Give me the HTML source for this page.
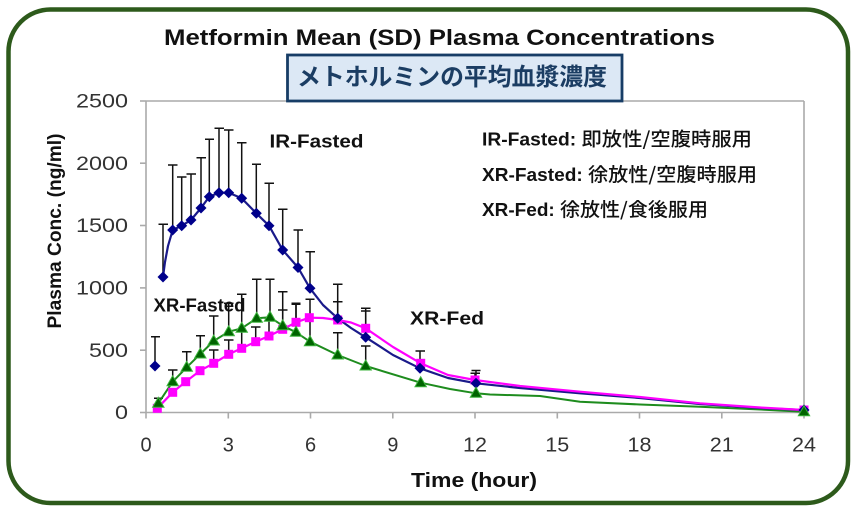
<!DOCTYPE html>
<html><head><meta charset="utf-8"><style>
html,body{margin:0;padding:0;background:#fff;}
svg{display:block;}
</style></head><body>
<svg width="857" height="514" viewBox="0 0 857 514" xmlns="http://www.w3.org/2000/svg">
<rect x="0" y="0" width="857" height="514" fill="#fff"/>
<rect x="8.5" y="9.5" width="839.5" height="493.5" rx="42" ry="42" fill="#fff" stroke="#2d5a1b" stroke-width="4.5"/>

<!-- title -->
<text x="164" y="45" font-family="Liberation Sans, Arial, sans-serif" font-weight="bold" font-size="22" fill="#111" textLength="551" lengthAdjust="spacingAndGlyphs">Metformin Mean (SD) Plasma Concentrations</text>

<!-- plot frame -->
<g stroke="#aaa" stroke-width="1.6" fill="none">
<line x1="146" y1="101" x2="804" y2="101"/>
<line x1="804" y1="101" x2="804" y2="412.5"/>
<line x1="146" y1="101" x2="146" y2="412.5"/>
<line x1="146" y1="412.5" x2="804" y2="412.5"/>
<line x1="140" y1="412.5" x2="146" y2="412.5"/>
<line x1="140" y1="350.2" x2="146" y2="350.2"/>
<line x1="140" y1="287.9" x2="146" y2="287.9"/>
<line x1="140" y1="225.5" x2="146" y2="225.5"/>
<line x1="140" y1="163.2" x2="146" y2="163.2"/>
<line x1="140" y1="101" x2="146" y2="101"/>
<line x1="146" y1="412.5" x2="146" y2="418.5"/>
<line x1="228.3" y1="412.5" x2="228.3" y2="418.5"/>
<line x1="310.5" y1="412.5" x2="310.5" y2="418.5"/>
<line x1="392.8" y1="412.5" x2="392.8" y2="418.5"/>
<line x1="475" y1="412.5" x2="475" y2="418.5"/>
<line x1="557.3" y1="412.5" x2="557.3" y2="418.5"/>
<line x1="639.5" y1="412.5" x2="639.5" y2="418.5"/>
<line x1="721.8" y1="412.5" x2="721.8" y2="418.5"/>
<line x1="804" y1="412.5" x2="804" y2="418.5"/>
</g>

<!-- y tick labels -->
<g font-family="Liberation Sans, Arial, sans-serif" font-size="19" fill="#333" text-anchor="end">
<text x="128" y="419" textLength="13" lengthAdjust="spacingAndGlyphs">0</text>
<text x="128" y="356.8" textLength="39" lengthAdjust="spacingAndGlyphs">500</text>
<text x="128" y="294.5" textLength="52" lengthAdjust="spacingAndGlyphs">1000</text>
<text x="128" y="232.1" textLength="52" lengthAdjust="spacingAndGlyphs">1500</text>
<text x="128" y="169.8" textLength="52" lengthAdjust="spacingAndGlyphs">2000</text>
<text x="128" y="107.5" textLength="52" lengthAdjust="spacingAndGlyphs">2500</text>
</g>
<!-- x tick labels -->
<g font-family="Liberation Sans, Arial, sans-serif" font-size="20" fill="#333" text-anchor="middle">
<text x="146" y="451.5">0</text>
<text x="228.3" y="451.5">3</text>
<text x="310.5" y="451.5">6</text>
<text x="392.8" y="451.5">9</text>
<text x="475" y="451.5" textLength="24" lengthAdjust="spacingAndGlyphs">12</text>
<text x="557.3" y="451.5" textLength="24" lengthAdjust="spacingAndGlyphs">15</text>
<text x="639.5" y="451.5" textLength="24" lengthAdjust="spacingAndGlyphs">18</text>
<text x="721.8" y="451.5" textLength="24" lengthAdjust="spacingAndGlyphs">21</text>
<text x="804" y="451.5" textLength="24" lengthAdjust="spacingAndGlyphs">24</text>
</g>

<!-- axis titles -->
<text x="411" y="487" font-family="Liberation Sans, Arial, sans-serif" font-weight="bold" font-size="20" fill="#111" textLength="126" lengthAdjust="spacingAndGlyphs">Time (hour)</text>
<text transform="translate(61,231) rotate(-90)" x="0" y="0" text-anchor="middle" font-family="Liberation Sans, Arial, sans-serif" font-weight="bold" font-size="19" fill="#111" textLength="195" lengthAdjust="spacingAndGlyphs">Plasma Conc. (ng/ml)</text>

<!-- Japanese box -->
<rect x="287.5" y="55" width="334.5" height="46" fill="#dce8f5" stroke="#173d66" stroke-width="2.8"/>
<text x="297" y="85" font-family="Liberation Sans, 'Noto Sans CJK JP', sans-serif" font-weight="bold" font-size="24" fill="#1b3d63" textLength="310" lengthAdjust="spacingAndGlyphs">メトホルミンの平均血漿濃度</text>

<!-- legend text -->
<g font-size="19" fill="#111">
<text x="482" y="145.5" textLength="270" lengthAdjust="spacingAndGlyphs"><tspan font-family="Liberation Sans, sans-serif" font-weight="bold" font-size="18">IR-Fasted: </tspan><tspan font-family="'Noto Sans CJK JP', sans-serif" font-weight="500">即放性/空腹時服用</tspan></text>
<text x="482" y="181" textLength="275" lengthAdjust="spacingAndGlyphs"><tspan font-family="Liberation Sans, sans-serif" font-weight="bold" font-size="18">XR-Fasted: </tspan><tspan font-family="'Noto Sans CJK JP', sans-serif" font-weight="500">徐放性/空腹時服用</tspan></text>
<text x="482" y="216" textLength="226" lengthAdjust="spacingAndGlyphs"><tspan font-family="Liberation Sans, sans-serif" font-weight="bold" font-size="18">XR-Fed: </tspan><tspan font-family="'Noto Sans CJK JP', sans-serif" font-weight="500">徐放性/食後服用</tspan></text>
</g>

<!-- error bars -->
<g stroke="#111" stroke-width="1.5" fill="none">
<!-- blue -->
<path d="M155 366V336.7M151 336.7H160
M163 277V224.3M158.5 224.3H168
M172.7 230V165M168 165H177.5
M181.7 225.7V177M177 177H186.5
M191 220V174M186.5 174H196
M201 208V157.7M196.5 157.7H206
M209.3 196.7V139.3M205 139.3H214
M219 192.7V128.3M214.5 128.3H224
M228.7 192.7V130M224 130H233.5
M241.7 198.3V142.7M237 142.7H246.5
M256.3 213.3V164.3M252 164.3H261
M269 225.7V183.3M264.5 183.3H274
M282.7 250V209.3M278 209.3H287.5
M298 267.5V230M293.5 230H303
M310 288.3V251.7M305.5 251.7H315
M337.7 318.3V284.3M333 284.3H342.5
M365.7 337.3V308.3M361 308.3H370.5
M420 368.3V351M415.5 351H425
M476 383.3V370.5M471.5 370.5H480.5"/>
<!-- green -->
<path d="M158.3 403.3V398.3M154 398.3H163
M172.7 381.7V370M168 370H177.5
M186.7 367.3V351.7M182 351.7H191.5
M200.3 354V335.7M196 335.7H205
M213.7 341V316M209 316H218.5
M228.7 331.7V303.3M224 303.3H233.5
M241.7 328.3V294.3M237 294.3H246.5
M256.7 318.3V279.3M252 279.3H261.5
M270 317.3V279.3M265.5 279.3H274.5
M282.7 325.7V291.7M278 291.7H287.5
M296 332.3V303.3M291.5 303.3H300.5
M310 341.7V299.3M305.5 299.3H314.5
M337.7 355V332.7M333 332.7H342.5
M365.7 366V346M361 346H370.5"/>
<!-- pink -->
<path d="M213.7 363.3V350M209 350H218.5
M228.7 354.3V340M224 340H233.5
M241.7 348.3V331.7M237 331.7H246.5
M255.7 341.7V327M251 327H260.5
M269 336V318M264.5 318H273.5
M282.7 329.3V310M278 310H287.5
M296 322.3V304.3M291.5 304.3H300.5
M337.7 320V301.7M333 301.7H342.5
M365.7 328.3V311M361 311H370.5
M475 380V373.3M470.5 373.3H480"/>
</g>

<!-- series lines -->
<g fill="none" stroke-linejoin="round" stroke-linecap="round">
<polyline stroke="#1e8c1e" stroke-width="2" points="158.3,403.3 172.7,381.7 186.7,367.3 200.3,354 213.7,341 228.7,331.7 241.7,328.3 256.7,318.3 270,317.3 282.7,325.7 296,332.3 310,341.7 337.7,355 365.7,366 420.7,382.7 450,389 476,393.3 490,394.5 540,396 580,401.7 640,404.5 700,406.7 760,409.5 804,411.7"/>
<polyline stroke="#1a1a8a" stroke-width="2.2" points="163,277 165,262 168,246 172.7,230 181.7,225.7 191,220 201,208 209.3,196.7 219,192.7 228.7,192.7 241.7,198.3 256.3,213.3 269,225.7 282.7,250 298,267.5 310,288.3 323,305 337.7,318.3 351,328 365.7,337.3 393,355 420,368.3 448,378 476,383.3 520,388 580,393.3 640,398 700,404 760,408 804,410"/>
<polyline stroke="#ff00ff" stroke-width="2.2" points="157.3,408.3 172.7,392.3 185.7,381.7 200,370.7 213.7,363.3 228.7,354.3 241.7,348.3 255.7,341.7 269,336 282.7,329.3 296,322.3 309.3,317.7 323,318 337.7,320 351,322.5 365.7,328.3 393,347 420.7,363.3 448,375 475,380 520,386 580,391.7 640,397 700,403.3 760,407.5 804,410"/>
</g>

<!-- markers -->
<g fill="#ff00ff">
<rect x="152.8" y="403.8" width="9" height="9"/>
<rect x="168.2" y="387.8" width="9" height="9"/>
<rect x="181.2" y="377.2" width="9" height="9"/>
<rect x="195.5" y="366.2" width="9" height="9"/>
<rect x="209.2" y="358.8" width="9" height="9"/>
<rect x="224.2" y="349.8" width="9" height="9"/>
<rect x="237.2" y="343.8" width="9" height="9"/>
<rect x="251.2" y="337.2" width="9" height="9"/>
<rect x="264.5" y="331.5" width="9" height="9"/>
<rect x="278.2" y="324.8" width="9" height="9"/>
<rect x="291.5" y="317.8" width="9" height="9"/>
<rect x="304.8" y="313.2" width="9" height="9"/>
<rect x="333.2" y="315.5" width="9" height="9"/>
<rect x="361.2" y="323.8" width="9" height="9"/>
<rect x="416.2" y="358.8" width="9" height="9"/>
<rect x="470.5" y="375.5" width="9" height="9"/>
<rect x="799.5" y="405.5" width="9" height="9"/>
</g>
<g fill="#00008b">
<path d="M155 360.5L160.5 366L155 371.5L149.5 366Z"/>
<path d="M163 271.5L168.5 277L163 282.5L157.5 277Z"/>
<path d="M172.7 224.5L178.2 230L172.7 235.5L167.2 230Z"/>
<path d="M181.7 220.2L187.2 225.7L181.7 231.2L176.2 225.7Z"/>
<path d="M191 214.5L196.5 220L191 225.5L185.5 220Z"/>
<path d="M201 202.5L206.5 208L201 213.5L195.5 208Z"/>
<path d="M209.3 191.2L214.8 196.7L209.3 202.2L203.8 196.7Z"/>
<path d="M219 187.2L224.5 192.7L219 198.2L213.5 192.7Z"/>
<path d="M228.7 187.2L234.2 192.7L228.7 198.2L223.2 192.7Z"/>
<path d="M241.7 192.8L247.2 198.3L241.7 203.8L236.2 198.3Z"/>
<path d="M256.3 207.8L261.8 213.3L256.3 218.8L250.8 213.3Z"/>
<path d="M269 220.2L274.5 225.7L269 231.2L263.5 225.7Z"/>
<path d="M282.7 244.5L288.2 250L282.7 255.5L277.2 250Z"/>
<path d="M298 262L303.5 267.5L298 273L292.5 267.5Z"/>
<path d="M310 282.8L315.5 288.3L310 293.8L304.5 288.3Z"/>
<path d="M337.7 312.8L343.2 318.3L337.7 323.8L332.2 318.3Z"/>
<path d="M365.7 331.8L371.2 337.3L365.7 342.8L360.2 337.3Z"/>
<path d="M420 362.8L425.5 368.3L420 373.8L414.5 368.3Z"/>
<path d="M476 377.8L481.5 383.3L476 388.8L470.5 383.3Z"/>
<path d="M804 404.5L809.5 410L804 415.5L798.5 410Z"/>
</g>
<g fill="#006400" stroke="#3cb43c" stroke-width="1">
<path d="M158.3 397.3L164 407.3L152.6 407.3Z"/>
<path d="M172.7 375.7L178.4 385.7L167 385.7Z"/>
<path d="M186.7 361.3L192.4 371.3L181 371.3Z"/>
<path d="M200.3 348L206 358L194.6 358Z"/>
<path d="M213.7 335L219.4 345L208 345Z"/>
<path d="M228.7 325.7L234.4 335.7L223 335.7Z"/>
<path d="M241.7 322.3L247.4 332.3L236 332.3Z"/>
<path d="M256.7 312.3L262.4 322.3L251 322.3Z"/>
<path d="M270 311.3L275.7 321.3L264.3 321.3Z"/>
<path d="M282.7 319.7L288.4 329.7L277 329.7Z"/>
<path d="M296 326.3L301.7 336.3L290.3 336.3Z"/>
<path d="M310 335.7L315.7 345.7L304.3 345.7Z"/>
<path d="M337.7 349L343.4 359L332 359Z"/>
<path d="M365.7 360L371.4 370L360 370Z"/>
<path d="M420.7 376.7L426.4 386.7L415 386.7Z"/>
<path d="M476 387.3L481.7 397.3L470.3 397.3Z"/>
<path d="M804 405.7L809.7 415.7L798.3 415.7Z"/>
</g>

<!-- annotations -->
<g font-family="Liberation Sans, Arial, sans-serif" font-weight="bold" font-size="18" fill="#111">
<text x="269.5" y="147.5" textLength="94" lengthAdjust="spacingAndGlyphs">IR-Fasted</text>
<text x="153.5" y="311.5" textLength="92" lengthAdjust="spacingAndGlyphs">XR-Fasted</text>
<text x="410" y="324.5" textLength="74" lengthAdjust="spacingAndGlyphs">XR-Fed</text>
</g>
</svg>
</body></html>
